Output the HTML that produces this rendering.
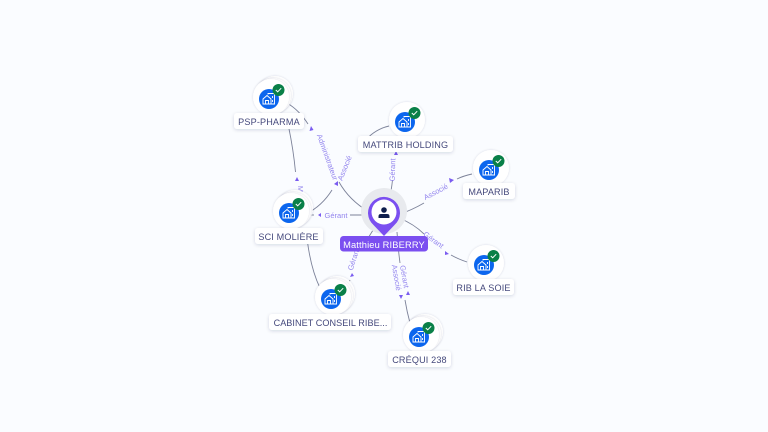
<!DOCTYPE html>
<html><head><meta charset="utf-8"><style>
html,body{margin:0;padding:0;background:#fafcff}
svg{display:block}
text{font-family:"Liberation Sans",sans-serif}
.lb{font-size:9.1px;fill:#45497c;text-anchor:middle;letter-spacing:.15px}
.e{font-size:7.5px;fill:#9385ee;text-anchor:middle}
.c{fill:none;stroke:#7c8299;stroke-width:.9}
.a{fill:#7a5cf0}
</style></head><body>
<svg width="768" height="432" viewBox="0 0 768 432" xmlns="http://www.w3.org/2000/svg">
<defs>
<filter id="s" x="-30%" y="-50%" width="160%" height="220%"><feDropShadow dx="0" dy="1" stdDeviation="1.800" flood-color="#1a2250" flood-opacity=".16"/></filter>
<filter id="s2" x="-30%" y="-30%" width="160%" height="160%"><feDropShadow dx="0" dy="0" stdDeviation="1" flood-color="#1a2250" flood-opacity=".16"/></filter>
<g id="ic">
<circle r="10" fill="#0c66ee"/>
<path d="M-6 5V0L-2-3.500 2 0V5ZM-1-4.500V-5.500H5.500V5H2" fill="none" stroke="#fff" stroke-width=".9"/>
<path d="M-3.500 5V1.500H-.5V5M3.500-3V-1M3.500 1V3" fill="none" stroke="#fff" stroke-width=".9"/>
<circle cx="9.500" cy="-9" r="6" fill="#0a8048"/>
<path d="M6.800-9 8.700-7.200 12.200-10.800" fill="none" stroke="#fff" stroke-width="1"/>
</g>
<g id="n1"><circle cx="2" cy="-2" r="18" fill="#fff" filter="url(#s2)"/><use href="#ic"/></g>
<g id="n2"><circle cx="6" cy="-5" r="18" fill="#fff" filter="url(#s2)"/><circle cx="4" cy="-3" r="18" fill="#fff" filter="url(#s2)"/><circle cx="2" cy="-2" r="18" fill="#fff" filter="url(#s2)"/><use href="#ic"/></g>
</defs>
<rect width="768" height="432" fill="#fafcff"/>

<!-- connectors -->
<path class="c" d="M287 103Q299 110 308 124"/>
<path class="c" d="M339 182Q349 200 369 212"/>
<path class="c" d="M286 115Q293 145 295.500 172"/>
<path class="c" d="M306 214Q322 206 332 190"/>
<path class="c" d="M389 126Q372 130 362 145"/>
<path class="c" d="M391 191Q392 185 392.500 180"/>
<path class="c" d="M472 174Q463 176 457 179"/>
<path class="c" d="M400 214Q412 210 424 203"/>
<path class="c" d="M308 215H314"/>
<path class="c" d="M350 215H368"/>
<path class="c" d="M399 218Q414 224 424 234"/>
<path class="c" d="M467 262Q458 259 451 255"/>
<path class="c" d="M306 228Q309 265 320 288"/>
<path class="c" d="M375 227Q368 238 362 248"/>
<path class="c" d="M350 280 348 285"/>
<path class="c" d="M397 232Q398 248 400 263"/>
<path class="c" d="M405 300Q407 312 410 323"/>

<!-- arrowheads -->
<path class="a" d="M311 126 309.500 131 313.500 130Z"/>
<path class="a" d="M338 181 334 184 338 186Z"/>
<path class="a" d="M297 177 295 181H299Z"/>
<path class="a" d="M396 151 394 155H398Z"/>
<path class="a" d="M454 180 449 178 450 183Z"/>
<path class="a" d="M318 215 321 213V217Z"/>
<path class="a" d="M449 254 445 251 445 255Z"/>
<path class="a" d="M352 273 350 277 354 276Z"/>
<path class="a" d="M408 291 406 295H410Z"/>
<path class="a" d="M401 299 399 295H403Z"/>

<!-- edge labels -->
<text class="e" transform="translate(325,158) rotate(70)">Administrateur</text>
<text class="e" transform="translate(347,169) rotate(-68)">Associé</text>
<text class="e" transform="translate(298,189) rotate(90)">M</text>
<text class="e" transform="translate(395,170) rotate(-88)">Gérant</text>
<text class="e" transform="translate(437,194) rotate(-28)">Associé</text>
<text class="e" x="336" y="218">Gérant</text>
<text class="e" transform="translate(432,242) rotate(36)">Gérant</text>
<text class="e" transform="translate(356,260) rotate(-72)">Gérant</text>
<text class="e" transform="translate(402,277) rotate(80)">Gérant</text>
<text class="e" transform="translate(394,278) rotate(80)">Associé</text>

<!-- nodes -->
<use href="#n2" x="269" y="99"/>
<use href="#n1" x="405" y="122"/>
<use href="#n1" x="489" y="170"/>
<use href="#n2" x="289" y="213"/>
<use href="#n1" x="484" y="265"/>
<use href="#n2" x="331" y="299"/>
<use href="#n2" x="419" y="337"/>

<!-- labels -->
<rect x="234" y="113" width="70" height="16" rx="3" fill="#fff" filter="url(#s)"/>
<text class="lb" x="269" y="125">PSP-PHARMA</text>
<rect x="358" y="136" width="95" height="16" rx="3" fill="#fff" filter="url(#s)"/>
<text class="lb" x="405.500" y="148">MATTRIB HOLDING</text>
<rect x="463" y="183" width="52" height="16" rx="3" fill="#fff" filter="url(#s)"/>
<text class="lb" x="489" y="195">MAPARIB</text>
<rect x="255" y="228" width="68" height="16" rx="3" fill="#fff" filter="url(#s)"/>
<text class="lb" x="288.500" y="240">SCI MOLIÈRE</text>
<rect x="453" y="279" width="61" height="16" rx="3" fill="#fff" filter="url(#s)"/>
<text class="lb" x="483.500" y="291">RIB LA SOIE</text>
<rect x="269" y="314" width="122" height="16" rx="3" fill="#fff" filter="url(#s)"/>
<text class="lb" x="330.500" y="326" style="letter-spacing:.05px">CABINET CONSEIL RIBE...</text>
<rect x="388" y="351" width="63" height="16" rx="3" fill="#fff" filter="url(#s)"/>
<text class="lb" x="419.500" y="363">CRÉQUI 238</text>

<!-- center -->
<circle cx="384" cy="211" r="23" fill="#e8eaee"/>
<path d="M384 236 373.500 225A16 16 0 1 1 394.500 225Z" fill="#7b4ff0"/>
<circle cx="384" cy="212" r="12.500" fill="#fff"/>
<circle cx="384" cy="210" r="2.800" fill="#0f1f4d"/>
<path d="M378.500 218V216.200Q378.500 214 381 214H387Q389.500 214 389.500 216.200V218Z" fill="#0f1f4d"/>
<rect x="340" y="236" width="88" height="15.500" rx="3.500" fill="#7b4ff0"/>
<text x="384" y="248" font-size="9.300" fill="#fff" text-anchor="middle" letter-spacing=".15">Matthieu RIBERRY</text>
</svg>
</body></html>
